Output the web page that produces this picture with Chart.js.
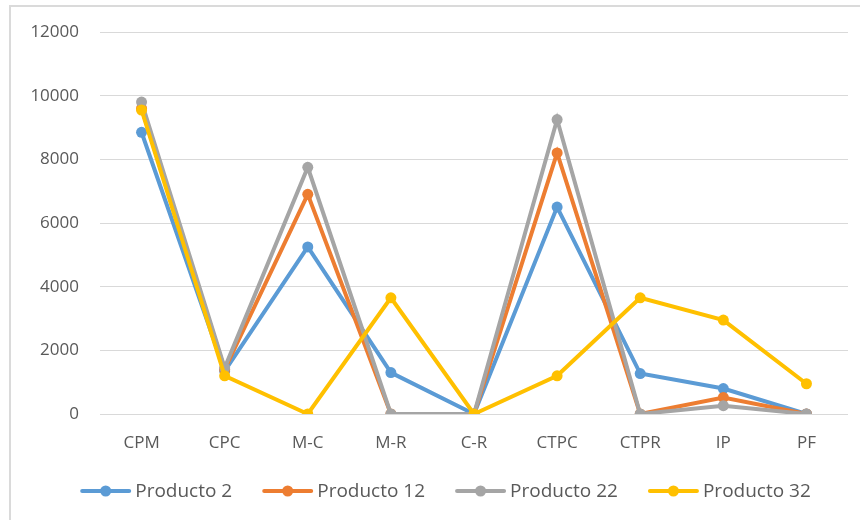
<!DOCTYPE html>
<html>
<head>
<meta charset="utf-8">
<script src="https://cdn.jsdelivr.net/npm/chart.js@4/dist/chart.umd.min.js"></script>
<style>
  html, body { margin: 0; padding: 0; background: #ffffff; }
  #wrap { position: relative; width: 860px; height: 520px; }
  #frame {
    position: absolute; left: 9px; top: 5px; right: 0; bottom: 0;
    border-top: 2px solid #dadada; border-left: 2px solid #dadada;
    pointer-events: none;
  }
  canvas { display: block; }
</style>
</head>
<body>
<div id="wrap">
  <canvas id="chart" width="860" height="520"></canvas>
  <div id="frame"></div>
</div>
<script>
// Cost components per product
const categories = ['CPM', 'CPC', 'M-C', 'M-R', 'C-R', 'CTPC', 'CTPR', 'IP', 'PF'];
const seriesNames = ['Producto 2', 'Producto 12', 'Producto 22', 'Producto 32'];
const producto2  = [8850, 1350, 5250, 1300, 0, 6500, 1270, 800, 0];
const producto12 = [9600, 1400, 6900, 0, 0, 8200, 0, 520, 0];
const producto22 = [9800, 1450, 7750, 0, 0, 9250, 0, 260, 0];
const producto32 = [9550, 1200, 0, 3650, 0, 1200, 3650, 2950, 950];
const yTicks = [0, 2000, 4000, 6000, 8000, 10000, 12000];

const colors = ['#5B9BD5', '#ED7D31', '#A5A5A5', '#FFC000'];
const allSeries = [producto2, producto12, producto22, producto32];
const textColor = '#595959';
const fontFamily = "'Open Sans', sans-serif";

const datasets = allSeries.map((vals, i) => ({
  label: seriesNames[i],
  data: vals,
  borderColor: colors[i],
  backgroundColor: colors[i],
  borderWidth: 4,
  pointRadius: 5.5,
  pointHoverRadius: 5.5,
  pointBorderWidth: 0,
  pointStyle: 'circle',
  tension: 0,
  // later series are painted on top
  order: allSeries.length - 1 - i
}));

// Bottom legend: line-with-dot swatch followed by the series name
const lineLegend = {
  id: 'lineLegend',
  afterDraw(chart, args, opts) {
    const ctx = chart.ctx;
    const items = chart.data.datasets;
    ctx.save();
    ctx.font = `${opts.fontSize}px ${fontFamily}`;
    const widths = items.map(d => ctx.measureText(d.label).width);
    const itemW = widths.map(w => opts.lineLen + opts.textGap + w);
    const total = itemW.reduce((a, b) => a + b, 0) + opts.itemGap * (items.length - 1);
    let x = opts.centerX - total / 2;
    const y = opts.centerY;
    items.forEach((d, i) => {
      ctx.strokeStyle = d.borderColor;
      ctx.lineWidth = 4;
      ctx.lineCap = 'round';
      ctx.beginPath();
      ctx.moveTo(x + 1, y);
      ctx.lineTo(x + opts.lineLen - 1, y);
      ctx.stroke();
      ctx.fillStyle = d.borderColor;
      ctx.beginPath();
      ctx.arc(x + opts.lineLen / 2, y, 5.5, 0, Math.PI * 2);
      ctx.fill();
      ctx.fillStyle = textColor;
      ctx.textBaseline = 'middle';
      ctx.textAlign = 'left';
      ctx.fillText(d.label, x + opts.lineLen + opts.textGap, y + 1);
      x += itemW[i] + opts.itemGap;
    });
    ctx.restore();
  }
};

const tickFont = { family: fontFamily, size: 17 };

new Chart(document.getElementById('chart'), {
  type: 'line',
  data: { labels: categories, datasets },
  plugins: [lineLegend],
  options: {
    responsive: false,
    animation: false,
    layout: { padding: { top: 32, right: 12, left: 0, bottom: 46 } },
    plugins: {
      tooltip: { enabled: false },
      legend: { display: false },
      lineLegend: { centerX: 446, centerY: 491, lineLen: 49, textGap: 5, itemGap: 31, fontSize: 19 }
    },
    scales: {
      x: {
        offset: true,
        grid: { display: false },
        border: { display: false },
        ticks: { color: textColor, font: tickFont, padding: 11, maxRotation: 0 },
        afterFit: (s) => { s.height = 60; }
      },
      y: {
        min: 0,
        max: 12000,
        afterBuildTicks: (s) => { s.ticks = yTicks.map(v => ({ value: v })); },
        grid: { color: '#d9d9d9', lineWidth: 1, drawTicks: false },
        border: { display: false },
        ticks: { color: textColor, font: tickFont, padding: 21, callback: (v) => String(v) },
        afterFit: (s) => { s.width = 100; }
      }
    }
  }
});
</script>
</body>
</html>
